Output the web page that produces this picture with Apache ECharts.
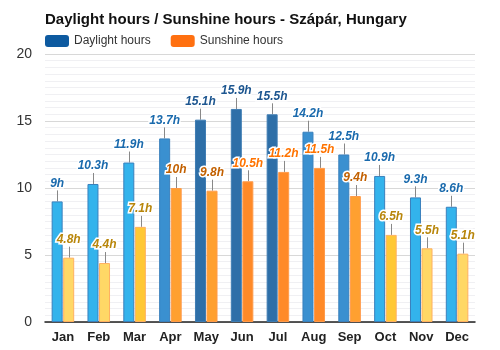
<html>
<head>
<meta charset="utf-8">
<script src="https://cdn.jsdelivr.net/npm/echarts@6.0.0/dist/echarts.min.js"></script>
</head>
<body style="margin:0">
<div id="chart" style="width:500px;height:350px;"></div>
<script>
var months = ['Jan', 'Feb', 'Mar', 'Apr', 'May', 'Jun', 'Jul', 'Aug', 'Sep', 'Oct', 'Nov', 'Dec'];
var daylight = [9, 10.3, 11.9, 13.7, 15.1, 15.9, 15.5, 14.2, 12.5, 10.9, 9.3, 8.6];
var sunshine = [4.8, 4.4, 7.1, 10, 9.8, 10.5, 11.2, 11.5, 9.4, 6.5, 5.5, 5.1];
var yTicks = [0, 5, 10, 15, 20];

// colours depend on the value
function dayColor(v) {
    if (v >= 15) return '#2e6fa8';
    if (v >= 12.2) return '#3a90d0';
    return '#33b3ec';
}
function dayBorder(v) {
    if (v >= 15) return '#3f7db3';
    return '#3a80bd';
}
function dayLabel(v) {
    return v >= 15 ? '#1d5690' : '#1a6aad';
}
function sunColor(v) {
    if (v >= 10.2) return '#ff8a28';
    if (v >= 9) return '#ffa030';
    if (v >= 6) return '#ffc835';
    return '#ffd866';
}
function sunBorder(v) {
    if (v >= 9) return '#ff9a4a';
    return '#ffb060';
}
function sunLabel(v) {
    if (v >= 10.2) return '#ff7300';
    if (v >= 9) return '#c26000';
    return '#b8860b';
}

var BAR_W = 11;

function barData(values, fill, border, txt) {
    return values.map(function (v) {
        return {
            value: v,
            itemStyle: { color: fill(v), borderColor: border(v), borderWidth: 1 },
            label: { color: txt(v) }
        };
    });
}

function leader(side) {
    return function (params, api) {
        var v = api.value(1);
        var p = api.coord([api.value(0), v]);
        var x = Math.round(p[0] + side * (BAR_W / 2 + 0.5)) + 0.5;
        return {
            type: 'line',
            shape: { x1: x, y1: p[1], x2: x, y2: p[1] - 11 },
            style: { stroke: '#888', lineWidth: 1 }
        };
    };
}

var chart = echarts.init(document.getElementById('chart'));
var labelBase = {
    show: true,
    position: 'top',
    distance: 12,
    fontFamily: 'Arial, Liberation Sans, sans-serif',
    fontSize: 12,
    fontWeight: 'bold',
    fontStyle: 'italic',
    textBorderColor: '#fff',
    textBorderWidth: 3,
    formatter: '{c}h'
};

chart.setOption({
    animation: false,
    title: {
        text: 'Daylight hours / Sunshine hours - Szápár, Hungary',
        left: 40,
        top: 7,
        textStyle: { fontFamily: 'Arial, Liberation Sans, sans-serif', fontSize: 15, fontWeight: 'bold', color: '#111' }
    },
    legend: {
        left: 40,
        top: 30,
        itemWidth: 24,
        itemHeight: 12,
        itemGap: 20,
        data: ['Daylight hours', 'Sunshine hours'],
        textStyle: { fontFamily: 'Arial, Liberation Sans, sans-serif', fontSize: 12, color: '#333' }
    },
    grid: { left: 45, right: 25, top: 54, bottom: 28 },
    xAxis: {
        type: 'category',
        data: months,
        axisLine: { lineStyle: { color: '#222', width: 1.5 } },
        axisTick: { show: false },
        axisLabel: { fontFamily: 'Arial, Liberation Sans, sans-serif', fontSize: 13, fontWeight: 'bold', color: '#222', margin: 9 }
    },
    yAxis: {
        type: 'value',
        min: yTicks[0],
        max: yTicks[yTicks.length - 1],
        interval: yTicks[1] - yTicks[0],
        axisLabel: { fontFamily: 'Arial, Liberation Sans, sans-serif', fontSize: 14, color: '#333', margin: 13 },
        splitLine: { lineStyle: { color: '#d8d8d8' } },
        minorTick: { show: false, splitNumber: 10 },
        minorSplitLine: { show: true, lineStyle: { color: '#f0f0f3' } }
    },
    series: [
        {
            name: 'Daylight hours',
            type: 'bar',
            barWidth: BAR_W,
            barGap: '5%',
            itemStyle: { color: '#0d5aa0' },
            label: labelBase,
            data: barData(daylight, dayColor, dayBorder, dayLabel),
            z: 3
        },
        {
            name: 'Sunshine hours',
            type: 'bar',
            barWidth: BAR_W,
            barGap: '5%',
            itemStyle: { color: '#ff7010' },
            label: labelBase,
            data: barData(sunshine, sunColor, sunBorder, sunLabel),
            z: 3
        },
        {
            type: 'custom',
            renderItem: leader(-1),
            data: daylight.map(function (v, i) { return [i, v]; }),
            z: 2,
            silent: true
        },
        {
            type: 'custom',
            renderItem: leader(1),
            data: sunshine.map(function (v, i) { return [i, v]; }),
            z: 2,
            silent: true
        }
    ]
});
</script>
</body>
</html>
